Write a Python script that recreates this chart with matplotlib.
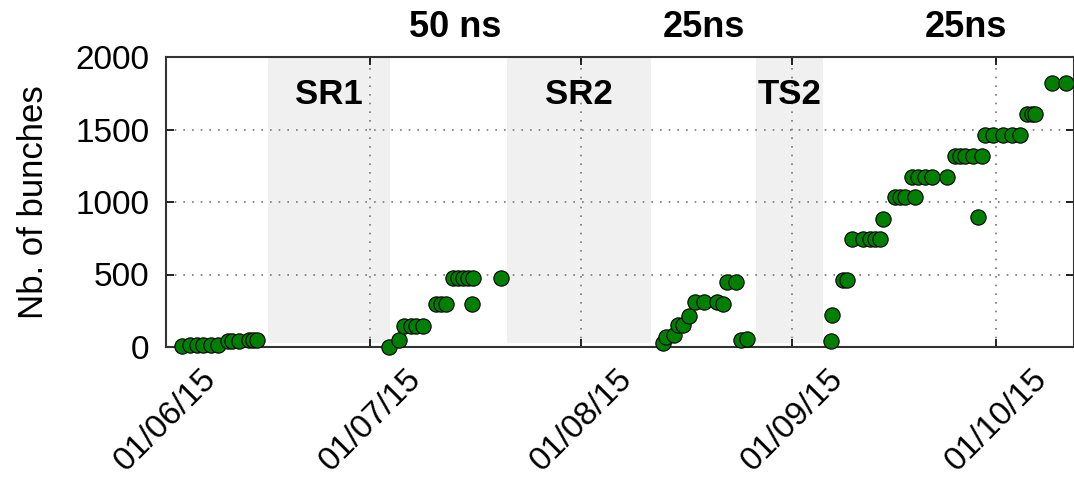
import pandas as pd
import matplotlib
matplotlib.use('Agg')
from matplotlib import pyplot as plt
import matplotlib.dates as mdates

# fill dates and number of bunches
dates = [
    '2015-06-03 10:00', '2015-06-04 11:00', '2015-06-05 15:00', '2015-06-06 09:00',
    '2015-06-07 13:00', '2015-06-08 14:00', '2015-06-10 01:00', '2015-06-10 18:00',
    '2015-06-11 19:00', '2015-06-13 06:00', '2015-06-13 20:00', '2015-06-14 10:00',
    '2015-07-03 19:00', '2015-07-05 05:00', '2015-07-05 23:00', '2015-07-07 00:00',
    '2015-07-07 17:00', '2015-07-08 19:00', '2015-07-10 17:00', '2015-07-11 10:00',
    '2015-07-12 03:00', '2015-07-13 05:00', '2015-07-13 22:00', '2015-07-14 15:00',
    '2015-07-15 09:00', '2015-07-16 02:00', '2015-07-15 22:00', '2015-07-20 05:00',
    '2015-08-13 02:00', '2015-08-13 10:00', '2015-08-14 14:00', '2015-08-15 04:00',
    '2015-08-15 22:00', '2015-08-16 19:00', '2015-08-17 19:00', '2015-08-19 00:00',
    '2015-08-21 00:00', '2015-08-21 19:00', '2015-08-22 12:00', '2015-08-23 17:00',
    '2015-08-24 10:00', '2015-08-25 10:00',
    '2015-09-06 17:00', '2015-09-06 22:00', '2015-09-08 10:00', '2015-09-09 02:00',
    '2015-09-09 19:00', '2015-09-11 10:00', '2015-09-12 12:00', '2015-09-13 05:00',
    '2015-09-13 22:00', '2015-09-14 10:00', '2015-09-16 03:00', '2015-09-16 21:00',
    '2015-09-17 14:00', '2015-09-19 03:00', '2015-09-18 15:00', '2015-09-19 12:00',
    '2015-09-20 13:00', '2015-09-21 13:00', '2015-09-23 17:00', '2015-09-24 22:00',
    '2015-09-25 15:00', '2015-09-26 09:00', '2015-09-27 13:00', '2015-09-28 21:00',
    '2015-09-28 08:00', '2015-09-29 08:00', '2015-09-30 12:00', '2015-10-02 00:00',
    '2015-10-03 07:00', '2015-10-04 10:00', '2015-10-05 11:00', '2015-10-06 05:00',
    '2015-10-06 15:00', '2015-10-09 06:00', '2015-10-11 06:00',
]
bunches = [
    6, 13, 13, 13, 13, 15, 38, 40, 40, 45, 50, 50,
    3, 50, 144, 144, 144, 144, 300, 300, 300, 476, 476, 476, 476, 476, 300, 476,
    25, 70, 80, 150, 150, 215, 310, 310, 310, 296, 450, 450, 45, 55,
    40, 220, 460, 460, 745, 745, 745, 745, 745, 885, 1035, 1035, 1035, 1035,
    1175, 1175, 1175, 1175, 1175, 1317, 1317, 1317, 1317, 1317, 897,
    1462, 1462, 1462, 1462, 1462, 1607, 1607, 1607, 1821, 1821,
]

# technical stops
stop_names = ['SR1', 'SR2', 'TS2']
stop_start = ['2015-06-15 22:00', '2015-07-21 02:00', '2015-08-26 17:00']
stop_end = ['2015-07-03 22:00', '2015-08-11 08:00', '2015-09-05 14:00']

# bunch spacing labels above the plot
spacing_labels = ['50 ns', '25ns', '25ns']
spacing_pos = ['2015-07-13 12:00', '2015-08-19 00:00', '2015-09-26 12:00']

ticks = ['2015-06-01', '2015-07-01', '2015-08-01', '2015-09-01', '2015-10-01']

plt.rcParams['font.family'] = ['Liberation Sans', 'DejaVu Sans']

fig = plt.figure(figsize=(10.74, 4.84), dpi=100)
ax = fig.add_axes([166 / 1074, 1 - 347 / 484, 1 - 166 / 1074, 290 / 484])

x = pd.to_datetime(dates)
for name, a, b in zip(stop_names, stop_start, stop_end):
    a, b = pd.Timestamp(a), pd.Timestamp(b)
    ax.axvspan(a, b, ymin=0.015, color='#f0f0f0', zorder=0, lw=0)
    ax.text(a + (b - a) / 2, 1740, name, ha='center', va='center',
            fontsize=25, fontweight='bold')

ax.plot(x, bunches, 'o', color='#007f00', mec='black', mew=0.8, ms=11,
        zorder=3, clip_on=False)

for lab, p in zip(spacing_labels, spacing_pos):
    ax.text(pd.Timestamp(p), 2205, lab, ha='center', va='center',
            fontsize=26, fontweight='bold', clip_on=False)

ax.set_xlim(pd.Timestamp('2015-06-01'), pd.Timestamp('2015-10-12 10:00'))
ax.set_ylim(0, 2000)
ax.set_yticks([0, 500, 1000, 1500, 2000])
ax.set_xticks(pd.to_datetime(ticks))
ax.xaxis.set_major_formatter(mdates.DateFormatter('%d/%m/%y'))
plt.setp(ax.get_xticklabels(), rotation=45, ha='center')

ax.grid(True, ls=(0, (1, 4.2)), lw=1.2, color='#777777', zorder=1)
ax.set_axisbelow(True)
ax.tick_params(direction='in', length=6, width=1.2, top=True, right=True,
               labelsize=24, pad=12)
for s in ax.spines.values():
    s.set_linewidth(1.5)
    s.set_color('#333333')
ax.set_ylabel('Nb. of bunches', fontsize=25, labelpad=18)

plt.savefig('out.png', dpi=100)
